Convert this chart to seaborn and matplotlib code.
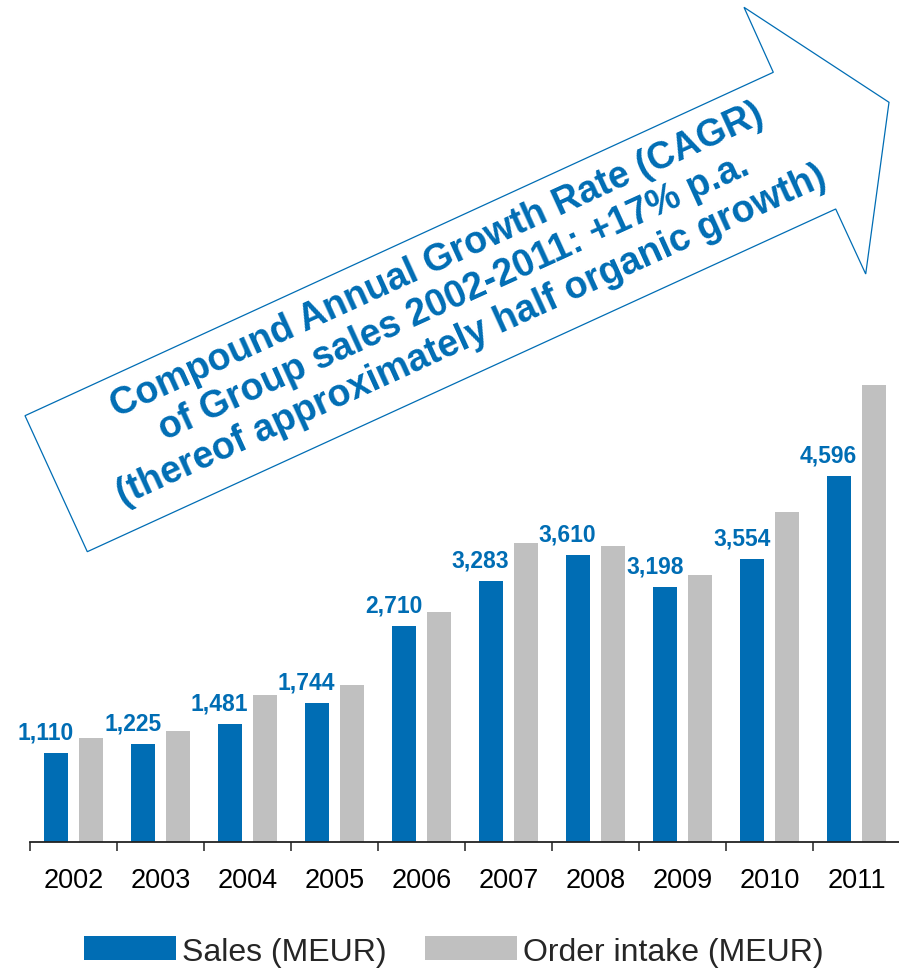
import numpy as np
import pandas as pd
import matplotlib
matplotlib.use("Agg")
import matplotlib.pyplot as plt
import seaborn as sns
from matplotlib.patches import Polygon, Patch

# ---- data -------------------------------------------------------------
years = ["2002", "2003", "2004", "2005", "2006", "2007", "2008", "2009", "2010", "2011"]
sales = [1110, 1225, 1481, 1744, 2710, 3283, 3610, 3198, 3554, 4596]
order_intake = [1299, 1392, 1845, 1971, 2887, 3752, 3714, 3350, 4147, 5736]
series_names = ["Sales (MEUR)", "Order intake (MEUR)"]

arrow_text = ("Compound Annual Growth Rate (CAGR)\n"
              "of Group sales 2002-2011: +17% p.a.\n"
              "(thereof approximately half organic growth)")

# ---- style ------------------------------------------------------------
BLUE = "#006DB4"
GRAY = "#C0C0C0"

sns.set_theme(style="white")
plt.rcParams["font.family"] = ["Liberation Sans", "DejaVu Sans"]

W, H = 899, 970
fig = plt.figure(figsize=(W / 100, H / 100), dpi=100)
fig.patch.set_facecolor("white")

base_px = 842.5          # pixel row of the category axis
px_per_unit = 0.0795     # vertical scale of the bars
ax = fig.add_axes([30 / W, (H - base_px) / H, 870 / W, base_px / H])
ax.set_facecolor("none")

df = pd.DataFrame({
    "Year": years * 2,
    "Value": sales + order_intake,
    "Series": [series_names[0]] * len(years) + [series_names[1]] * len(years),
})

sns.barplot(data=df, x="Year", y="Value", hue="Series", hue_order=series_names,
            palette=[BLUE, GRAY], saturation=1, width=0.8, gap=0.31,
            errorbar=None, linewidth=0, legend=False, ax=ax)

ax.set_xlim(-0.5, len(years) - 0.5)
ax.set_ylim(0, base_px / px_per_unit)
ax.set_xlabel("")
ax.set_ylabel("")
ax.set_yticks([])
for side in ("top", "right", "left"):
    ax.spines[side].set_visible(False)
ax.spines["bottom"].set_color("#222222")
ax.spines["bottom"].set_linewidth(1.3)

# year labels centred, tick marks between categories
ax.tick_params(axis="x", which="major", length=0, pad=18.5, labelsize=19.5,
               labelcolor="black")
ax.set_xticks(np.arange(-0.5, len(years), 1.0), minor=True)
ax.tick_params(axis="x", which="minor", bottom=True, length=6.5, width=1.1,
               color="#222222", direction="out")

# value labels above the sales bars
for bar, v in zip(ax.containers[0], sales):
    ax.annotate(f"{v:,}", (bar.get_x() + bar.get_width() / 2, bar.get_height()),
                xytext=(-7.5, 10.3), textcoords="offset points", ha="center",
                va="baseline", fontsize=16.5, fontweight="bold", color=BLUE)

# ---- growth arrow -----------------------------------------------------
def fig_xy(x, y):
    return (x / W, 1 - y / H)

arrow_pts = [(25, 416.7), (773.3, 73.3), (744, 8.3), (889, 103.3),
             (865.7, 275), (835.7, 210), (87.3, 552.7)]
fig.add_artist(Polygon([fig_xy(x, y) for x, y in arrow_pts], closed=True,
                       facecolor="white", edgecolor=BLUE, linewidth=0.9,
                       transform=fig.transFigure, zorder=1))

tx, ty = fig_xy(454, 298)
fig.text(tx, ty, arrow_text, rotation=24.5, rotation_mode="anchor",
         ha="center", va="center", multialignment="center",
         fontsize=27, fontweight="bold", color=BLUE, linespacing=1.18,
         zorder=2)

# ---- legend -----------------------------------------------------------
handles = [Patch(facecolor=BLUE, edgecolor="none", label=series_names[0]),
           Patch(facecolor=GRAY, edgecolor="none", label=series_names[1])]
fig.legend(handles=handles, loc="center", bbox_to_anchor=(0.505, 17.5 / H),
           ncol=2, frameon=False, fontsize=23, handlelength=2.87,
           handleheight=0.78, handletextpad=0.2, columnspacing=1.2,
           borderpad=0, borderaxespad=0)

fig.savefig("out.png", dpi=100)
